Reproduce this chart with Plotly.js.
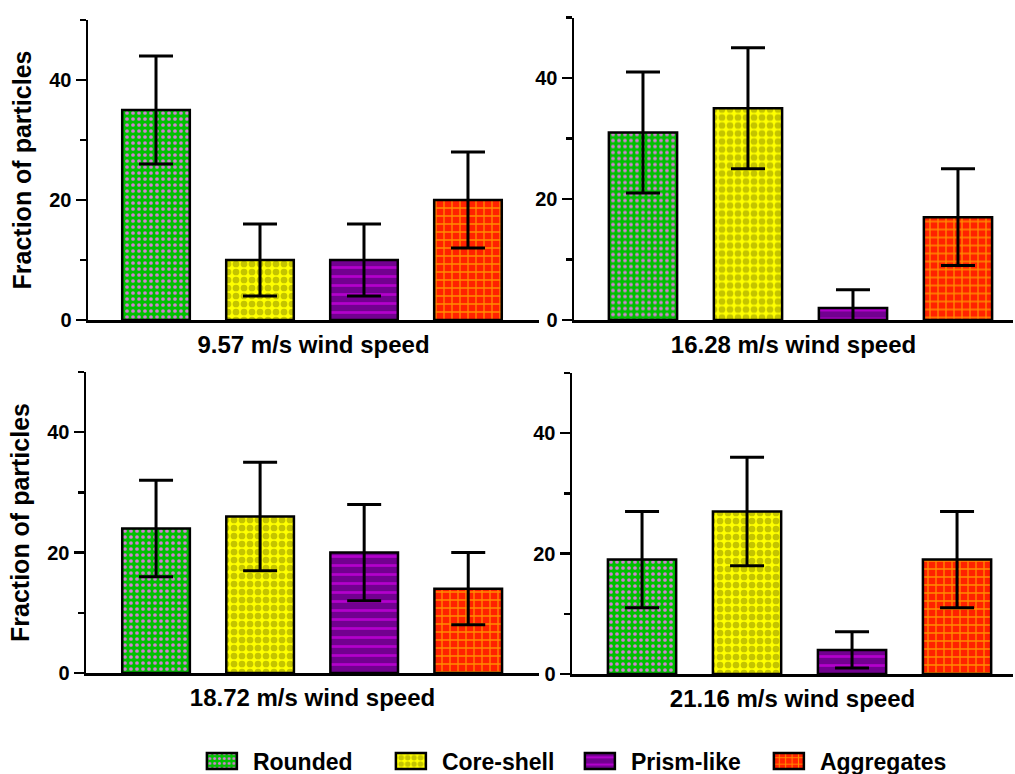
<!DOCTYPE html>
<html>
<head>
<meta charset="utf-8">
<script src="https://cdn.plot.ly/plotly-3.0.1.min.js"></script>
<style>html,body{margin:0;padding:0;background:#fff;overflow:hidden;}#chart{width:1015px;height:774px;}</style>
</head>
<body>
<div id="chart"></div>
<script>
// ---- data ----
var categories = ['Rounded', 'Core-shell', 'Prism-like', 'Aggregates'];
var speedLabels = ['9.57 m/s wind speed', '16.28 m/s wind speed', '18.72 m/s wind speed', '21.16 m/s wind speed'];
var fraction957 = [35, 10, 10, 20];
var error957 = [9, 6, 6, 8];
var fraction1628 = [31, 35, 2, 17];
var error1628 = [10, 10, 3, 8];
var fraction1872 = [24, 26, 20, 14];
var error1872 = [8, 9, 8, 6];
var fraction2116 = [19, 27, 4, 19];
var error2116 = [8, 9, 3, 8];
var yTickVals = [0, 20, 40];
var yTickText = ['0', '20', '40'];

var panelValues = [fraction957, fraction1628, fraction1872, fraction2116];
var panelErrors = [error957, error1628, error1872, error2116];

// ---- styles ----
var FONT = 'Liberation Sans, Arial, sans-serif';
var patterns = [
  {shape: '.', bgcolor: '#00c000', fgcolor: '#d47fd4', size: 6, solidity: 0.3, fillmode: 'replace'},
  {shape: '.', bgcolor: '#ffff00', fgcolor: '#c4c400', size: 8, solidity: 0.55, fillmode: 'replace'},
  {shape: '-', bgcolor: '#720090', fgcolor: '#b300cc', size: 9, solidity: 0.3, fillmode: 'replace'},
  {shape: '+', bgcolor: '#ff2200', fgcolor: '#ff8c00', size: 8, solidity: 0.3, fillmode: 'replace'}
];
var baseColors = ['#00c000', '#ffff00', '#720090', '#ff2200'];

var W = 1015, H = 774;
// panel geometry in pixels
var panels = [
  {x: [88, 539], y: [320, 20], range: [-0.654, 3.683]},
  {x: [574, 1013], y: [320, 17.5], range: [-0.657, 3.524]},
  {x: [86, 539], y: [673, 372], range: [-0.673, 3.68]},
  {x: [572, 1013], y: [674, 373], range: [-0.667, 3.533]}
];

var traces = [];
for (var p = 0; p < 4; p++) {
  for (var c = 0; c < categories.length; c++) {
    traces.push({
      type: 'bar',
      name: categories[c],
      legendgroup: categories[c],
      showlegend: p === 0,
      x: [categories[c]],
      y: [panelValues[p][c]],
      width: 0.65,
      xaxis: 'x' + (p === 0 ? '' : p + 1),
      yaxis: 'y' + (p === 0 ? '' : p + 1),
      marker: {
        color: baseColors[c],
        pattern: patterns[c],
        line: {color: '#000', width: 2.5}
      },
      error_y: {type: 'data', array: [panelErrors[p][c]], visible: true,
                color: '#000', thickness: 3, width: 17},
      hoverinfo: 'x+y'
    });
  }
}

var layout = {
  width: W, height: H, autosize: false,
  margin: {l: 0, r: 0, t: 0, b: 0, pad: 0, autoexpand: false},
  paper_bgcolor: '#fff', plot_bgcolor: 'rgba(0,0,0,0)',
  barmode: 'overlay',
  font: {family: FONT, size: 20, color: '#000', weight: 700},
  showlegend: true,
  legend: {
    orientation: 'h', x: 0.192, xanchor: 'left', y: 1 - 761 / H, yanchor: 'middle',
    font: {family: FONT, size: 23, color: '#000', weight: 700},
    itemwidth: 44, entrywidth: 130, entrywidthmode: 'pixels',
    traceorder: 'normal', bgcolor: 'rgba(0,0,0,0)'
  }
};

for (var p = 0; p < 4; p++) {
  var g = panels[p];
  var sfx = p === 0 ? '' : String(p + 1);
  layout['xaxis' + sfx] = {
    domain: [g.x[0] / W, g.x[1] / W],
    anchor: 'y' + sfx,
    type: 'category',
    categoryorder: 'array', categoryarray: categories,
    range: g.range,
    showline: true, linecolor: '#000', linewidth: 2.5,
    ticks: '', showticklabels: false, showgrid: false, zeroline: false,
    title: {text: speedLabels[p], font: {family: FONT, size: 24, color: '#000', weight: 700}, standoff: 15},
    fixedrange: true
  };
  layout['yaxis' + sfx] = {
    domain: [1 - g.y[0] / H, 1 - g.y[1] / H],
    anchor: 'x' + sfx,
    range: [0, 50],
    tickvals: yTickVals, ticktext: yTickText,
    ticks: 'outside', ticklen: 10, tickwidth: 2.5, tickcolor: '#000',
    minor: {tickvals: [10, 30, 50], ticks: 'outside', ticklen: 6, tickwidth: 2.5, tickcolor: '#000'},
    showline: true, linecolor: '#000', linewidth: 2.5,
    showgrid: false, zeroline: false,
    tickfont: {family: FONT, size: 20, color: '#000', weight: 700},
    title: (p === 0 || p === 2) ? {text: 'Fraction of particles', font: {family: FONT, size: 25, color: '#000', weight: 700}, standoff: 11} : {text: ''},
    fixedrange: true
  };
}

Plotly.newPlot('chart', traces, layout, {displayModeBar: false, staticPlot: true}).then(function (gd) {
  // widen legend swatches to the flat rectangles of the reference
  gd.querySelectorAll('.legend .legendpoints path').forEach(function (el) {
    el.setAttribute('d', 'M15,8H-15V-8H15Z');
  });
  // a little more room between swatch and label, as in the reference
  gd.querySelectorAll('.legend text.legendtext').forEach(function (el) {
    el.setAttribute('transform', 'translate(4,0)');
  });
});
</script>
</body>
</html>
